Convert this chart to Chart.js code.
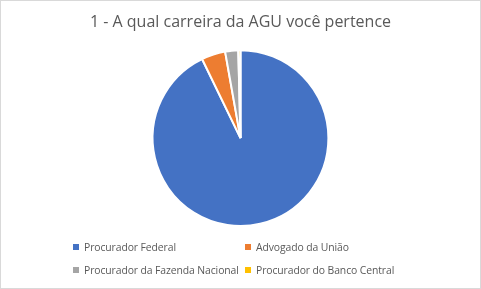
<!DOCTYPE html>
<html>
<head>
<meta charset="utf-8">
<script src="https://cdn.jsdelivr.net/npm/chart.js@4"></script>
<style>
  html, body { margin: 0; padding: 0; background: #fff; }
  #wrap { position: relative; width: 479px; height: 287px; border: 1px solid #d9d9d9; }
  canvas { position: absolute; left: 0; top: 0; }
  #legend { position: absolute; left: 72px; top: 238px; font-family: "Open Sans", sans-serif; font-size: 10.4px; letter-spacing: -0.1px; color: #595959; }
  .item { position: absolute; white-space: nowrap; line-height: 16px; }
  .item span { display: inline-block; width: 6px; height: 6px; margin-right: 5px; vertical-align: 1px; }
</style>
</head>
<body>
<div id="wrap">
  <canvas id="chart" width="479" height="287"></canvas>
  <div id="legend"></div>
</div>
<script>
  const categories = [
    'Procurador Federal',
    'Advogado da União',
    'Procurador da Fazenda Nacional',
    'Procurador do Banco Central',
  ];
  const values = [232, 11, 6, 1];
  const colors = ['#4472c4', '#ed7d31', '#a5a5a5', '#ffc000'];
  const titleText = '1 - A qual carreira da AGU você pertence';

  // legend positions: two columns, two rows
  const legendPos = [
    [0, 0],
    [172, 0],
    [0, 23],
    [172, 23],
  ];
  const legend = document.getElementById('legend');
  categories.forEach((name, i) => {
    const el = document.createElement('div');
    el.className = 'item';
    el.style.left = legendPos[i][0] + 'px';
    el.style.top = legendPos[i][1] + 'px';
    el.innerHTML = `<span style="background:${colors[i]}"></span>${name}`;
    legend.appendChild(el);
  });

  new Chart(document.getElementById('chart'), {
    type: 'pie',
    data: {
      labels: categories,
      datasets: [
        {
          data: values,
          backgroundColor: colors,
          borderColor: '#ffffff',
          borderWidth: 2,
        },
      ],
    },
    options: {
      responsive: false,
      animation: false,
      layout: { padding: { top: 0, bottom: 61 } },
      plugins: {
        legend: { display: false },
        tooltip: { enabled: false },
        title: {
          display: true,
          text: titleText,
          color: '#595959',
          font: { family: 'Open Sans', size: 16, weight: 'normal' },
          padding: { top: 12, bottom: 17 },
        },
      },
    },
  });
</script>
</body>
</html>
